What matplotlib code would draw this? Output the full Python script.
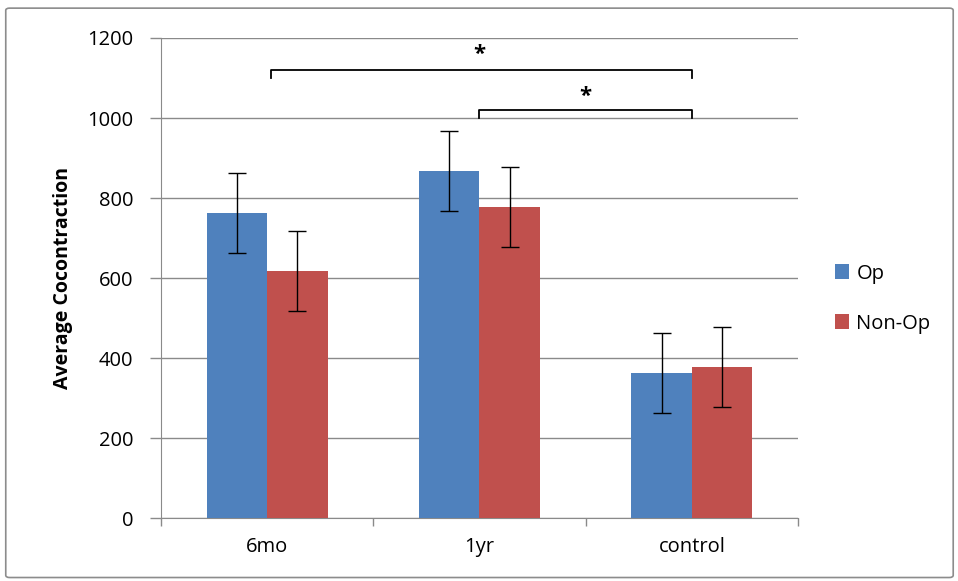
import matplotlib
matplotlib.use("Agg")
import matplotlib.pyplot as plt
import numpy as np
from matplotlib.patches import FancyBboxPatch

categories = ["6mo", "1yr", "control"]
op_values = [762, 867, 362]
nonop_values = [617, 777, 377]
op_err = [100, 100, 100]
nonop_err = [100, 100, 100]
series_names = ["Op", "Non-Op"]
y_ticks = [0, 200, 400, 600, 800, 1000, 1200]

plt.rcParams['font.family'] = ['Open Sans', 'DejaVu Sans']

fig = plt.figure(figsize=(9.58, 5.81), dpi=100)
ax = fig.add_axes([0.168, 0.1084, 0.665, 0.8262])

# outer frame
frame = FancyBboxPatch((0.006, 0.006), 0.989, 0.980, boxstyle="round,pad=0,rounding_size=0.004",
                       transform=fig.transFigure, fill=False, edgecolor="#8c8c8c", linewidth=1.2)
fig.patches.append(frame)

x = np.arange(len(categories))
w = 0.285
blue = "#4F81BD"
red = "#C0504D"
ax.bar(x - w/2, op_values, w, color=blue, label=series_names[0], zorder=3,
       yerr=op_err, error_kw=dict(ecolor="black", capsize=6.5, elinewidth=1, capthick=1, zorder=4))
ax.bar(x + w/2, nonop_values, w, color=red, label=series_names[1], zorder=3,
       yerr=nonop_err, error_kw=dict(ecolor="black", capsize=6.5, elinewidth=1, capthick=1, zorder=4))

ax.set_xlim(-0.5, 2.5)
ax.set_ylim(0, 1200)
ax.set_yticks(y_ticks)
ax.yaxis.grid(True, color="#8a8a8a", linewidth=1, zorder=0)
ax.set_axisbelow(True)

fs = 14.5
ax.set_xticks(x)
ax.set_xticklabels(categories, fontsize=fs)
ax.tick_params(axis='x', which='major', length=0, pad=14)
ax.set_xticks([-0.5, 0.5, 1.5, 2.5], minor=True)
ax.tick_params(axis='x', which='minor', length=6, color="#8a8a8a", width=1)
ax.tick_params(axis='y', length=8, color="#8a8a8a", width=1, labelsize=fs, pad=12)

for s in ["top", "right"]:
    ax.spines[s].set_visible(False)
ax.spines["left"].set_color("#8a8a8a")
ax.spines["bottom"].set_color("#8a8a8a")

ax.set_ylabel("Average Cocontraction", fontsize=14, fontweight="bold", labelpad=10)

# significance brackets
def bracket(x0, x1, y, ydrop, sx, sy):
    ax.plot([x0, x0, x1, x1], [y - ydrop, y, y, y - ydrop], color="black", lw=1.3, zorder=5, clip_on=False)
    ax.text(sx, sy, "*", ha="center", va="center", fontsize=16, fontweight="bold")

bracket(0.02, 2.0, 1120, 20, 1.0, 1160)
bracket(1.0, 2.0, 1020, 20, 1.5, 1053)

leg = ax.legend(loc="center left", bbox_to_anchor=(1.03, 0.457), frameon=False, fontsize=fs,
                handlelength=0.7, handleheight=0.8, handletextpad=0.35, labelspacing=1.5)

fig.savefig("out.png", dpi=100)
